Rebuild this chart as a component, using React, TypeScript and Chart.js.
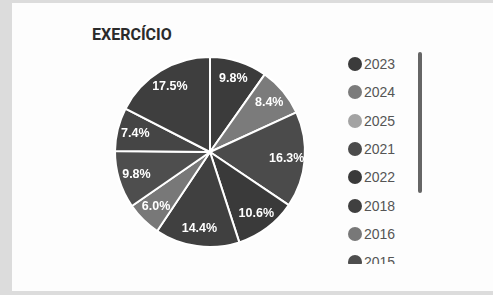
import React, { useEffect, useRef } from "react";
import { Chart, registerables } from "chart.js";

Chart.register(...registerables);

const title = "EXERCÍCIO";
const categories = ["2023", "2024", "2025", "2021", "2022", "2018", "2016", "2015", "2017", "2019"];
const values = [9.8, 8.4, 0, 16.3, 10.6, 14.4, 6.0, 9.8, 7.4, 17.5];
const colors = ["#3b3b3b", "#7b7b7b", "#a3a3a3", "#4b4b4b", "#3a3a3a", "#404040", "#787878", "#4e4e4e", "#454545", "#3e3e3e"];

const pctLabels = {
  id: "pctLabels",
  afterDatasetsDraw(chart: any) {
    const ctx = chart.ctx;
    const meta = chart.getDatasetMeta(0);
    ctx.save();
    ctx.fillStyle = "#ffffff";
    ctx.font = "bold 12.5px 'Liberation Sans', Arial, sans-serif";
    ctx.textAlign = "center";
    ctx.textBaseline = "middle";
    meta.data.forEach((arc: any, i: number) => {
      const v = values[i];
      if (!v) return;
      const p = arc.getProps(["x", "y", "startAngle", "endAngle", "outerRadius"], true);
      const a = (p.startAngle + p.endAngle) / 2;
      const r = p.outerRadius * 0.81;
      ctx.fillText(v.toFixed(1) + "%", p.x + Math.cos(a) * r, p.y + Math.sin(a) * r);
    });
    ctx.restore();
  },
};

export default function App() {
  const ref = useRef<HTMLCanvasElement | null>(null);
  useEffect(() => {
    if (!ref.current) return;
    const chart = new Chart(ref.current, {
      type: "pie",
      data: {
        labels: categories,
        datasets: [
          {
            data: values,
            backgroundColor: colors,
            borderColor: "#ffffff",
            borderWidth: 2,
          },
        ],
      },
      options: {
        animation: false,
        responsive: false,
        maintainAspectRatio: false,
        layout: { padding: 4 },
        plugins: { legend: { display: false }, tooltip: { enabled: false } },
      },
      plugins: [pctLabels],
    });
    return () => chart.destroy();
  }, []);

  return (
    <div style={{ position: "fixed", left: 0, top: 0, width: 493, height: 295, background: "#dcdcdc", overflow: "hidden" }}>
      <div style={{ position: "absolute", left: 12, top: 3, width: 481, height: 288, background: "#fdfdfd" }}>
        <div
          style={{
            position: "absolute",
            left: 80,
            top: 22,
            fontFamily: "Roboto, Arial, sans-serif",
            fontWeight: 700,
            fontSize: 16,
            letterSpacing: 0,
            color: "#2b2b2b",
          }}
        >
          {title}
        </div>
        <canvas
          ref={ref}
          width={200}
          height={200}
          style={{ position: "absolute", left: 97.5, top: 49, width: 200, height: 200 }}
        />
        <div
          style={{
            position: "absolute",
            left: 336,
            top: 47,
            width: 80,
            height: 214,
            overflow: "hidden",
            fontFamily: "'Liberation Sans', Arial, sans-serif",
            fontSize: 14,
            color: "#555",
          }}
        >
          {categories.map((c, i) => (
            <div key={c} style={{ height: 28.3, display: "flex", alignItems: "center" }}>
              <span
                style={{
                  display: "inline-block",
                  width: 14,
                  height: 14,
                  borderRadius: "50%",
                  background: colors[i],
                  marginRight: 2,
                }}
              />
              <span>{c}</span>
            </div>
          ))}
        </div>
        <div
          style={{
            position: "absolute",
            left: 406,
            top: 49,
            width: 4,
            height: 141,
            borderRadius: 2,
            background: "#666",
          }}
        />
      </div>
    </div>
  );
}
